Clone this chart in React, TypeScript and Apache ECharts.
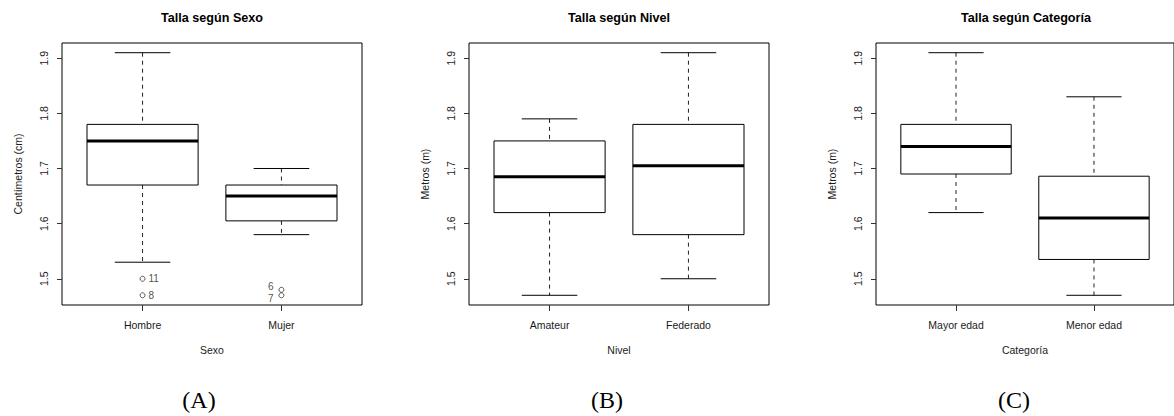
import { useEffect, useRef } from 'react';
import * as echarts from 'echarts';

// ---- Data ----
const titles = ['Talla según Sexo', 'Talla según Nivel', 'Talla según Categoría'];
const yNames = ['Centímetros (cm)', 'Metros (m)', 'Metros (m)'];
const xNames = ['Sexo', 'Nivel', 'Categoría'];
const panelTags = ['(A)', '(B)', '(C)'];

const sexoCats = ['Hombre', 'Mujer'];
// [lower whisker, Q1, median, Q3, upper whisker]
const sexoStats = [
  [1.53, 1.67, 1.75, 1.78, 1.91],
  [1.58, 1.605, 1.65, 1.67, 1.7],
];
// [category index (1-based), value, label]
const sexoOutliers: [number, number, string][] = [
  [1, 1.5, '11'],
  [1, 1.47, '8'],
  [2, 1.48, '6'],
  [2, 1.47, '7'],
];

const nivelCats = ['Amateur', 'Federado'];
const nivelStats = [
  [1.47, 1.62, 1.685, 1.75, 1.79],
  [1.5, 1.58, 1.705, 1.78, 1.91],
];
const nivelOutliers: [number, number, string][] = [];

const categoriaCats = ['Mayor edad', 'Menor edad'];
const categoriaStats = [
  [1.62, 1.69, 1.74, 1.78, 1.91],
  [1.47, 1.535, 1.61, 1.686, 1.83],
];
const categoriaOutliers: [number, number, string][] = [];

const yTicks = [1.5, 1.6, 1.7, 1.8, 1.9];

const panels = [
  { cats: sexoCats, stats: sexoStats, outliers: sexoOutliers },
  { cats: nivelCats, stats: nivelStats, outliers: nivelOutliers },
  { cats: categoriaCats, stats: categoriaStats, outliers: categoriaOutliers },
];

// ---- Layout ----
const gridLefts = [62, 469, 876];
const gridTop = 43;
const gridW = 300;
const gridH = 262;
const tagX = [199, 607, 1014];
const tagY = 400;

const FONT = 'Liberation Sans, Arial, sans-serif';
const TEXT = '#1a1a1a';

// overall y extent (R's 4% extension)
const allVals: number[] = [];
panels.forEach((p) => {
  p.stats.forEach((s) => allVals.push(...s));
  p.outliers.forEach((o) => allVals.push(o[1]));
});
const dMin = Math.min(...allVals);
const dMax = Math.max(...allVals);
const ext = (dMax - dMin) * 0.04;
const yMin = dMin - ext;
const yMax = dMax + ext;

export default function App() {
  const ref = useRef<HTMLDivElement>(null);
  useEffect(() => {
    if (!ref.current) return;
    const chart = echarts.init(ref.current, undefined, { renderer: 'svg' });

    const grids: any[] = [];
    const xAxes: any[] = [];
    const yAxes: any[] = [];
    const series: any[] = [];
    const titleArr: any[] = [];

    panels.forEach((p, i) => {
      const n = p.cats.length;
      const xr = n; // range 0.5..n+0.5
      const xMin = 0.5 - xr * 0.04;
      const xMax = n + 0.5 + xr * 0.04;
      const catVals = p.cats.map((_, k) => k + 1);

      grids.push({
        left: gridLefts[i],
        top: gridTop,
        width: gridW,
        height: gridH,
        show: true,
        borderColor: '#000',
        borderWidth: 1,
        backgroundColor: 'transparent',
      });
      xAxes.push({
        type: 'value',
        gridIndex: i,
        min: xMin,
        max: xMax,
        splitLine: { show: false },
        axisLine: { show: false },
        axisTick: { show: true, length: 6, customValues: catVals, lineStyle: { color: '#333' } },
        axisLabel: {
          show: true,
          customValues: catVals,
          margin: 14,
          fontFamily: FONT,
          fontSize: 10.5,
          color: TEXT,
          formatter: (v: number) => p.cats[Math.round(v) - 1] ?? '',
        },
        name: xNames[i],
        nameLocation: 'middle',
        nameGap: 39,
        nameTextStyle: { fontFamily: FONT, fontSize: 10.5, color: TEXT },
      });
      yAxes.push({
        type: 'value',
        gridIndex: i,
        min: yMin,
        max: yMax,
        splitLine: { show: false },
        axisLine: { show: false },
        axisTick: { show: true, length: 5, customValues: yTicks, lineStyle: { color: '#333' } },
        axisLabel: {
          show: true,
          customValues: yTicks,
          rotate: 90,
          margin: 13,
          fontFamily: FONT,
          fontSize: 10.5,
          color: TEXT,
          formatter: (v: number) => v.toFixed(1),
        },
        name: yNames[i],
        nameLocation: 'middle',
        nameGap: 39,
        nameTextStyle: { fontFamily: FONT, fontSize: 10.5, color: TEXT },
      });
      titleArr.push({
        text: titles[i],
        left: gridLefts[i] + gridW / 2,
        textAlign: 'center',
        top: 11,
        padding: 0,
        textStyle: { fontFamily: FONT, fontSize: 12.6, fontWeight: 'bold', color: '#000' },
      });

      series.push({
        type: 'custom',
        xAxisIndex: i,
        yAxisIndex: i,
        data: p.stats.map((s, k) => [k + 1, ...s]),
        encode: { x: 0, y: [1, 2, 3, 4, 5] },
        renderItem: (params: any, api: any) => {
          const x = api.value(0);
          const lo = api.coord([x, api.value(1)]);
          const q1 = api.coord([x, api.value(2)]);
          const med = api.coord([x, api.value(3)]);
          const q3 = api.coord([x, api.value(4)]);
          const hi = api.coord([x, api.value(5)]);
          const half = api.size([0.8, 0])[0] / 2;
          const cap = half / 2;
          const cx = med[0];
          const solid = { stroke: '#000', lineWidth: 1, fill: null };
          const dashed = { stroke: '#222', lineWidth: 1, lineDash: [4, 4], fill: null };
          return {
            type: 'group',
            children: [
              { type: 'line', shape: { x1: cx, y1: hi[1], x2: cx, y2: q3[1] }, style: dashed },
              { type: 'line', shape: { x1: cx, y1: q1[1], x2: cx, y2: lo[1] }, style: dashed },
              { type: 'line', shape: { x1: cx - cap, y1: hi[1], x2: cx + cap, y2: hi[1] }, style: solid },
              { type: 'line', shape: { x1: cx - cap, y1: lo[1], x2: cx + cap, y2: lo[1] }, style: solid },
              {
                type: 'rect',
                shape: { x: cx - half, y: q3[1], width: half * 2, height: q1[1] - q3[1] },
                style: { stroke: '#000', lineWidth: 1, fill: '#fff' },
              },
              { type: 'line', shape: { x1: cx - half, y1: med[1], x2: cx + half, y2: med[1] }, style: { stroke: '#000', lineWidth: 3 } },
            ],
          };
        },
        silent: true,
      });

      if (p.outliers.length) {
        // stacked labels at the same category are nudged apart vertically
        series.push({
          type: 'scatter',
          xAxisIndex: i,
          yAxisIndex: i,
          symbol: 'circle',
          symbolSize: 5,
          itemStyle: { color: '#fff', borderColor: '#000', borderWidth: 0.8 },
          data: p.outliers.map((o, k) => {
            const right = o[0] === 1;
            const sameCat = p.outliers.filter((q) => q[0] === o[0]);
            const idx = sameCat.indexOf(o);
            const close = sameCat.length > 1 && Math.abs(sameCat[0][1] - sameCat[1][1]) < 0.02;
            const dy = close ? (idx === 0 ? -3 : 3) : 0;
            return {
              value: [o[0], o[1]],
              name: o[2],
              label: {
                position: right ? 'right' : 'left',
                distance: right ? 3 : 5,
                offset: [0, dy],
              },
            };
          }),
          label: {
            show: true,
            formatter: (d: any) => d.name,
            fontFamily: FONT,
            fontSize: 10,
            color: TEXT,
          },
          silent: true,
        });
      }
    });

    chart.setOption({
      animation: false,
      backgroundColor: '#fff',
      title: titleArr,
      grid: grids,
      xAxis: xAxes,
      yAxis: yAxes,
      series,
      graphic: panelTags.map((t, i) => ({
        type: 'text',
        x: tagX[i],
        y: tagY,
        style: {
          text: t,
          fontFamily: 'Liberation Serif, Times New Roman, serif',
          fontSize: 24,
          fill: '#000',
          textAlign: 'center',
          textVerticalAlign: 'middle',
        },
      })),
    });
    return () => chart.dispose();
  }, []);
  return <div ref={ref} style={{ position: 'absolute', left: 0, top: 0, width: 1174, height: 416 }} />;
}
